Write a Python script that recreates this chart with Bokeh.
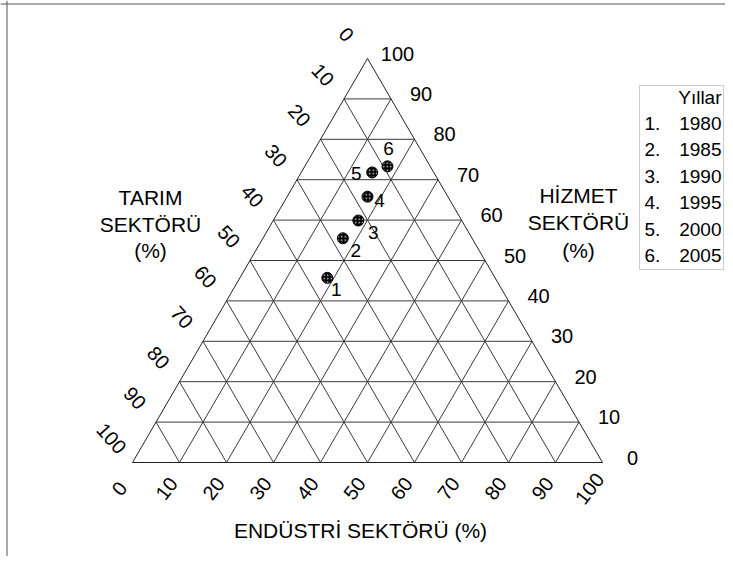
import math
from bokeh.plotting import figure
from bokeh.models import Range1d, BoxAnnotation, Span
from bokeh.embed import file_html
from bokeh.resources import INLINE
from bokeh.core.properties import value

# ---------------- data ----------------
point_ids = ["1", "2", "3", "4", "5", "6"]
years = ["1980", "1985", "1990", "1995", "2000", "2005"]
agriculture = [35.7, 27.5, 22.0, 17.1, 13.1, 9.1]   # TARIM (%)
industry = [18.6, 17.0, 18.1, 17.1, 15.1, 17.6]      # ENDÜSTRİ (%)
services = [45.7, 55.5, 59.9, 65.8, 71.8, 73.3]      # HİZMET (%)
ticks = [0, 10, 20, 30, 40, 50, 60, 70, 80, 90, 100]

# ---------------- layout constants (pixels) ----------------
W, H = 725, 556
KX, KY = 4.7, 4.04          # pixels per percent unit
OX, OY = 132.0, 462.0       # page pixel of the bottom-left vertex
ORG = 0                     # page pixel of the canvas origin
XS = (ORG - OX) / KX
XE = XS + W / KX
YE = (OY - ORG) / KY
YS = YE - H / KY
FONT = value("Liberation Sans")


def tern(i, s):
    """ternary (industry, services) -> cartesian data coords"""
    return i + s / 2.0, s


def pix(px, py):
    return (px - OX) / KX, (OY - py) / KY


def off(x, y, dx, dy):
    return x + dx / KX, y - dy / KY


p = figure(width=W, height=H, x_range=Range1d(XS, XE), y_range=Range1d(YS, YE),
           x_axis_type=None, y_axis_type=None, toolbar_location=None,
           output_backend="svg", min_border=0, outline_line_color=None)
p.background_fill_color = "white"

# outer frame (left and top)
p.add_layout(Span(location=pix(6.5, 0)[0], dimension="height", line_color="#555555", line_width=1))
p.add_layout(Span(location=pix(0, 3.5)[1], dimension="width", line_color="#555555", line_width=1))

# ---------------- grid ----------------
gx, gy = [], []
for k in ticks[1:-1]:
    a = tern(0, k); b = tern(100 - k, k)            # constant services
    gx.append([a[0], b[0]]); gy.append([a[1], b[1]])
    a = tern(k, 0); b = tern(k, 100 - k)            # constant industry
    gx.append([a[0], b[0]]); gy.append([a[1], b[1]])
    a = tern(100 - k, 0); b = tern(0, 100 - k)      # constant agriculture
    gx.append([a[0], b[0]]); gy.append([a[1], b[1]])
p.multi_line(gx, gy, line_color="#3a3a3a", line_width=1)
v = [tern(0, 0), tern(100, 0), tern(0, 100), tern(0, 0)]
p.line([q[0] for q in v], [q[1] for q in v], line_color="#222222", line_width=1)

# ---------------- tick labels ----------------
lx, ly, lt = [], [], []
bx, by, bt = [], [], []
rx, ry, rt = [], [], []
for k in ticks:
    ex, ey = tern(0, 100 - k)                 # agriculture = k on left edge
    x, y = off(ex, ey, -21, -24)
    lx.append(x); ly.append(y); lt.append(str(k))
    ex, ey = tern(k, 0)                       # industry = k on bottom edge
    x, y = off(ex, ey, -13, 26)
    bx.append(x); by.append(y); bt.append(str(k))
    ex, ey = tern(100 - k, k)                 # services = k on right edge
    x, y = off(ex, ey, 30, -5)
    rx.append(x); ry.append(y); rt.append(str(k))

p.text(lx, ly, text=lt, angle=math.radians(-48), text_font=FONT, text_font_size="20px",
       text_align="center", text_baseline="middle", text_color="black")
p.text(bx, by, text=bt, angle=math.radians(52), text_font=FONT, text_font_size="20px",
       text_align="center", text_baseline="middle", text_color="black")
p.text(rx, ry, text=rt, text_font=FONT, text_font_size="20px",
       text_align="center", text_baseline="middle", text_color="black")

# ---------------- axis titles ----------------
def title_lines(px, pys, lines, size="21px"):
    xs, ys = [], []
    for py in pys:
        x, y = pix(px, py)
        xs.append(x); ys.append(y)
    p.text(xs, ys, text=lines, text_font=FONT, text_font_size=size,
           text_align="center", text_baseline="middle", text_color="black")

title_lines(150, [197, 224, 250], ["TARIM", "SEKTÖRÜ", "(%)"])
title_lines(578, [195, 222, 250], ["HİZMET", "SEKTÖRÜ", "(%)"])
title_lines(360, [530], ["ENDÜSTRİ SEKTÖRÜ (%)"])

# ---------------- data points ----------------
px_, py_ = [], []
for i, s in zip(industry, services):
    x, y = tern(i, s)
    px_.append(x); py_.append(y)
p.scatter(px_, py_, size=11, marker="circle", fill_color="black", line_color="black",
          hatch_pattern="dot", hatch_color="#cccccc", hatch_scale=3.5, hatch_weight=0.8)

label_offsets = [(9, 12), (13, 12), (15, 12), (12, 4), (-16, 1), (1, -18)]
tx, ty = [], []
for (x, y), (dx, dy) in zip(zip(px_, py_), label_offsets):
    a, b = off(x, y, dx, dy)
    tx.append(a); ty.append(b)
p.text(tx, ty, text=point_ids, text_font=FONT, text_font_size="19px",
       text_align="center", text_baseline="middle", text_color="black")

# ---------------- legend ----------------
l, t = pix(639, 85)
r, bb = pix(723, 269)
p.add_layout(BoxAnnotation(left=l, right=r, top=t, bottom=bb, fill_alpha=0,
                           line_color="#555555", line_width=1))
hx, hy = pix(721, 97)
p.text([hx], [hy], text=["Yıllar"], text_font=FONT, text_font_size="19px",
       text_align="right", text_baseline="middle", text_color="black")
nx, ny, yx, yy = [], [], [], []
for j in range(len(years)):
    a, b = pix(644, 123 + 26.4 * j)
    nx.append(a); ny.append(b)
    a, b = pix(721, 123 + 26.4 * j)
    yx.append(a); yy.append(b)
p.text(nx, ny, text=[f"{pid}." for pid in point_ids], text_font=FONT, text_font_size="19px",
       text_align="left", text_baseline="middle", text_color="black")
p.text(yx, yy, text=years, text_font=FONT, text_font_size="19px",
       text_align="right", text_baseline="middle", text_color="black")

open("out.html", "w").write(file_html(p, INLINE))
